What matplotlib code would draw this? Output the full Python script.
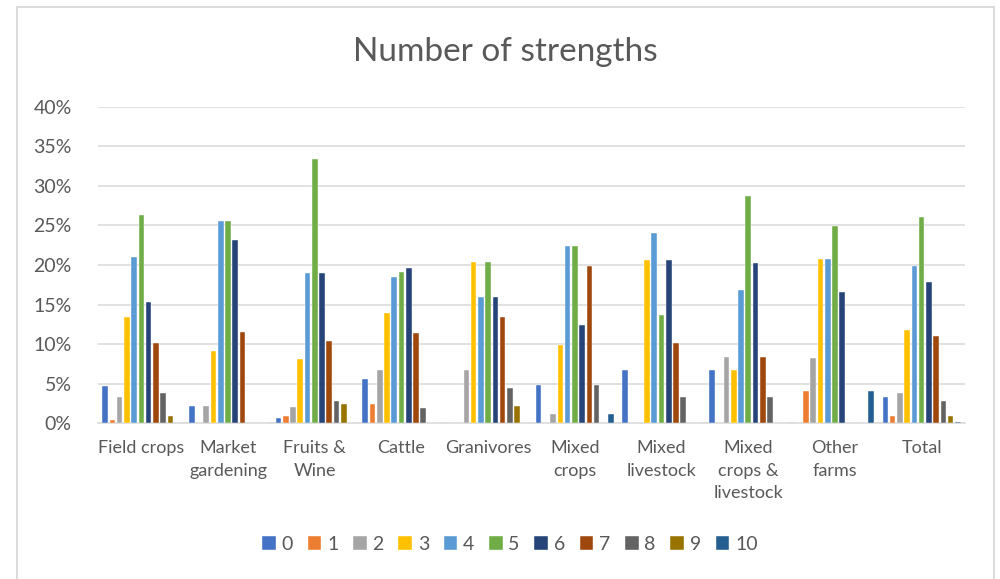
import numpy as np
import matplotlib
matplotlib.use("Agg")
import matplotlib.pyplot as plt
from matplotlib.patches import Rectangle
from matplotlib.ticker import PercentFormatter

plt.rcParams['font.family'] = ['Lato', 'DejaVu Sans']

# ------------------------------- DATA ---------------------------------------
categories = ['Field crops', 'Market\ngardening', 'Fruits &\nWine', 'Cattle',
              'Granivores', 'Mixed\ncrops', 'Mixed\nlivestock',
              'Mixed\ncrops &\nlivestock', 'Other\nfarms', 'Total']
series_names = ['0', '1', '2', '3', '4', '5', '6', '7', '8', '9', '10']

# share of farms (%) per number of strengths, one list per farm type
field_crops   = [4.75, 0.4, 3.3, 13.4, 21.0, 26.3, 15.3, 10.1, 3.8, 0.9, 0.0]
market_garden = [2.2, 0.0, 2.2, 9.2, 25.5, 25.5, 23.2, 11.5, 0.0, 0.0, 0.0]
fruits_wine   = [0.7, 1.0, 2.1, 8.2, 19.0, 33.4, 19.0, 10.4, 2.8, 2.5, 0.0]
cattle        = [5.6, 2.5, 6.7, 13.9, 18.5, 19.1, 19.6, 11.4, 2.0, 0.0, 0.0]
granivores    = [0.0, 0.0, 6.7, 20.4, 15.9, 20.4, 15.9, 13.5, 4.5, 2.2, 0.0]
mixed_crops   = [4.9, 0.0, 1.2, 9.9, 22.4, 22.4, 12.4, 19.9, 4.9, 0.0, 1.2]
mixed_lives   = [6.8, 0.0, 0.0, 20.6, 24.0, 13.7, 20.6, 10.2, 3.4, 0.0, 0.0]
mixed_both    = [6.7, 0.0, 8.4, 6.7, 16.8, 28.7, 20.2, 8.4, 3.3, 0.0, 0.0]
other_farms   = [0.0, 4.1, 8.3, 20.7, 20.7, 24.9, 16.6, 0.0, 0.0, 0.0, 4.1]
total         = [3.4, 0.9, 3.9, 11.8, 19.9, 26.0, 17.9, 11.1, 2.9, 0.9, 0.13]

colors = ['#4472C4', '#ED7D31', '#A5A5A5', '#FFC000', '#5B9BD5', '#70AD47',
          '#264478', '#9E480E', '#636363', '#997300', '#255E91']

# ------------------------------- PLOT ---------------------------------------
values = np.array([field_crops, market_garden, fruits_wine, cattle, granivores,
                   mixed_crops, mixed_lives, mixed_both, other_farms, total]) / 100.0

fig = plt.figure(figsize=(10, 5.79), dpi=100)
ax = fig.add_axes([0.098, 0.2686, 0.867, 0.5474])

n_cat, n_ser = values.shape
x = np.arange(n_cat)
slot = 0.92 / n_ser
for k in range(n_ser):
    ax.bar(x - 0.46 + slot * (k + 0.5), values[:, k], width=slot * 0.78,
           color=colors[k], edgecolor='white', linewidth=0.3,
           label=series_names[k], zorder=3)

ax.set_xlim(-0.5, n_cat - 0.5)
ax.set_ylim(0, 0.40)
ax.set_yticks(np.arange(0, 0.41, 0.05))
ax.yaxis.set_major_formatter(PercentFormatter(1.0, decimals=0))
ax.grid(axis='y', color='#D9D9D9', linewidth=1.1, zorder=0)
for s in ['top', 'right', 'left']:
    ax.spines[s].set_visible(False)
ax.spines['bottom'].set_color('#D9D9D9')
ax.spines['bottom'].set_linewidth(1.1)
ax.tick_params(axis='both', length=0, colors='#595959')
ax.tick_params(axis='y', pad=19, labelsize=14)
ax.tick_params(axis='x', pad=12, labelsize=13)
ax.set_xticks(x)
ax.set_xticklabels(categories, va='top', linespacing=1.5)

fig.text(0.505, 0.910, 'Number of strengths', ha='center', va='center',
         fontsize=24, color='#595959')

leg = fig.legend(loc='center', bbox_to_anchor=(0.51, 0.06), ncol=n_ser,
                 frameon=False, fontsize=14, handlelength=0.7, handleheight=0.7,
                 handletextpad=0.3, columnspacing=0.75, labelcolor='#595959')

# chart frame
fig.add_artist(Rectangle((0.017, -0.05), 0.977, 1.038, transform=fig.transFigure,
                         fill=False, edgecolor='#D9D9D9', linewidth=1.3))

fig.savefig('out.png', dpi=100)
